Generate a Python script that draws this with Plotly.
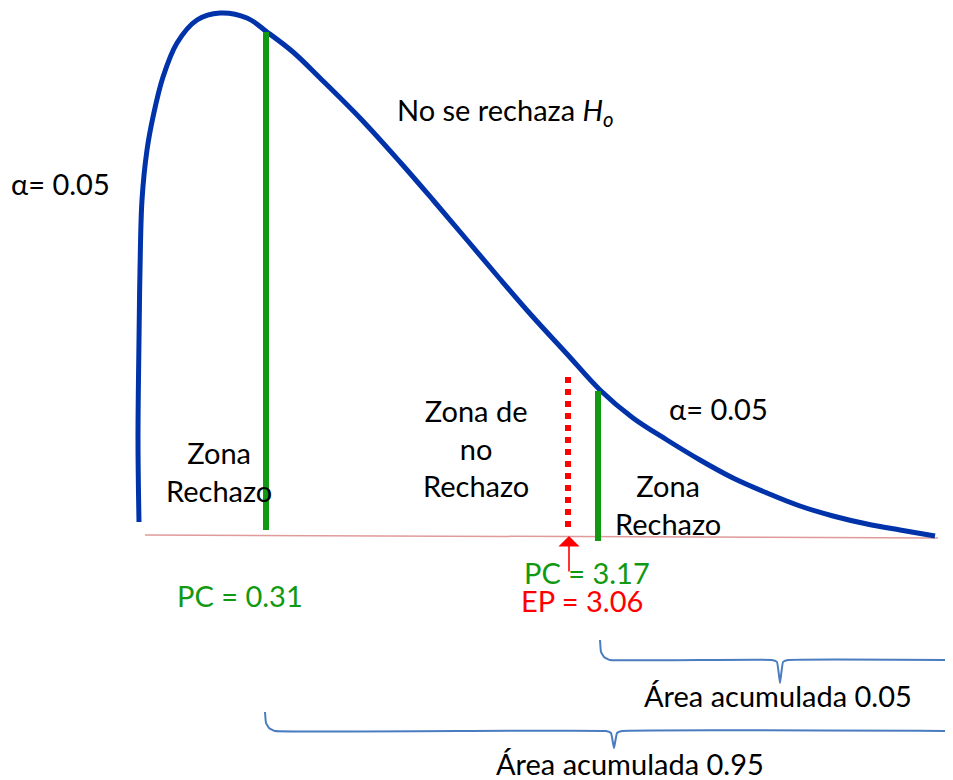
import plotly.graph_objects as go

# Density curve (pixel space of the diagram)
curve_x = [139, 138, 139, 140, 142, 147, 153, 163, 177, 197, 220, 247, 267, 293, 320, 360, 400, 433, 467,
           500, 533, 567, 600, 633, 667, 700, 733, 767, 800, 833, 867, 900, 935]
curve_y = [522, 440, 340, 270, 200, 150, 117, 77, 43, 20, 13, 18, 32, 52, 78, 118, 162, 200, 240,
           279, 317, 354, 390, 418, 440, 460, 478, 493, 506, 516, 524, 530, 536]

baseline_x = [145, 938]
baseline_y = [535, 538]

pc_low_x = [266, 266]
pc_low_y = [32, 530]
pc_high_x = [598, 598]
pc_high_y = [391, 541]
ep_x = [568, 568]
ep_y = [377, 533]

brace1_x = [600, 601, 604, 610, 772, 777, 780, 783, 788, 965]
brace1_y = [640, 652, 657, 660, 660, 662, 683, 662, 660, 660]
brace2_x = [265, 266, 269, 275, 606, 611, 614, 617, 622, 965]
brace2_y = [712, 723, 728, 731, 731, 733, 748, 733, 731, 731]

FONT = "Lato"
SIZE = 29
BLACK = "#000000"
GREEN = "#119911"
RED = "#ff0000"

fig = go.Figure()

fig.add_trace(go.Scatter(x=baseline_x, y=baseline_y, mode="lines",
                         line=dict(color="#e09a9a", width=1.5), hoverinfo="skip"))
fig.add_trace(go.Scatter(x=curve_x, y=curve_y, mode="lines",
                         line=dict(color="#0033aa", width=5, shape="spline", smoothing=1),
                         hoverinfo="skip"))
fig.add_trace(go.Scatter(x=pc_low_x, y=pc_low_y, mode="lines",
                         line=dict(color=GREEN, width=6), hoverinfo="skip"))
fig.add_trace(go.Scatter(x=pc_high_x, y=pc_high_y, mode="lines",
                         line=dict(color=GREEN, width=6), hoverinfo="skip"))
fig.add_trace(go.Scatter(x=ep_x, y=ep_y, mode="lines",
                         line=dict(color=RED, width=6, dash="dot"), hoverinfo="skip"))
for bx, by in ((brace1_x, brace1_y), (brace2_x, brace2_y)):
    fig.add_trace(go.Scatter(x=bx, y=by, mode="lines",
                             line=dict(color="#4a7cc0", width=2, shape="spline", smoothing=0.3),
                             hoverinfo="skip", cliponaxis=False))

# red arrow pointing up to EP
fig.add_annotation(x=569, y=536, ax=569, ay=573, xref="x", yref="y", axref="x", ayref="y",
                   showarrow=True, arrowhead=1, arrowsize=2.2, arrowwidth=1.6, arrowcolor=RED, text="")

def txt(x, y, s, color=BLACK, size=SIZE):
    fig.add_annotation(x=x, y=y, xref="x", yref="y", text=s, showarrow=False,
                       font=dict(family=FONT, size=size, color=color), align="center",
                       xanchor="center", yanchor="middle")

txt(505, 111, "No se rechaza <i>H<sub>o</sub></i>")
txt(60, 183, "α= 0.05")
txt(476, 448, "Zona de<br>no<br>Rechazo")
txt(219, 471, "Zona<br>Rechazo")
txt(718, 408, "α= 0.05")
txt(668, 504, "Zona<br>Rechazo")
txt(240, 595, "PC = 0.31", GREEN)
txt(587, 572, "PC = 3.17", GREEN)
txt(582, 600, "EP = 3.06", RED)
txt(778, 695, "Área acumulada 0.05")
txt(630, 763, "Área acumulada 0.95")

# the page body adds an 8px margin, so the figure covers pixels 8..953 x 8..780
fig.update_layout(
    width=945, height=772, margin=dict(l=0, r=0, t=0, b=0),
    paper_bgcolor="white", plot_bgcolor="white", showlegend=False,
    xaxis=dict(range=[8, 953], visible=False, fixedrange=True),
    yaxis=dict(range=[780, 8], visible=False, fixedrange=True),
)
fig.write_html("out.html")
